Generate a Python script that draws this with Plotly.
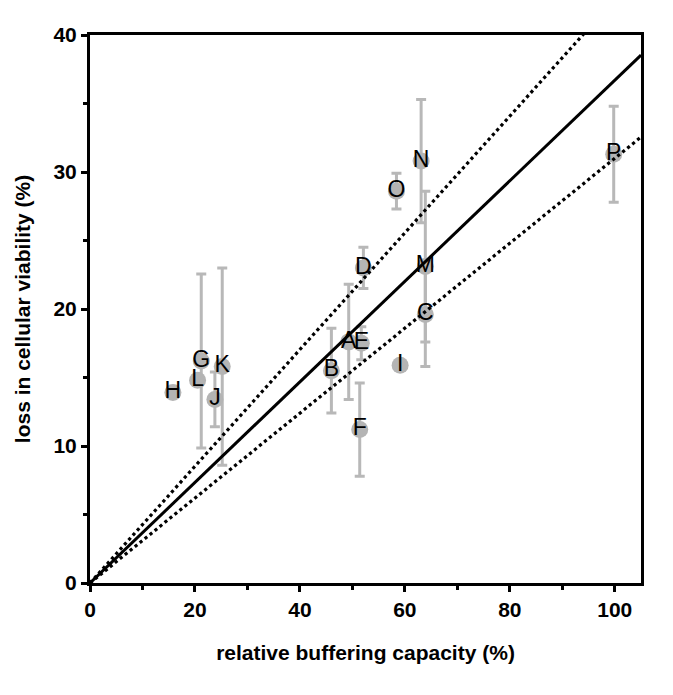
import plotly.graph_objects as go

labels = ["A", "B", "C", "D", "E", "F", "G", "H", "I", "J", "K", "L", "M", "N", "O", "P"]
buffering = [49.3, 46.0, 63.9, 52.1, 51.7, 51.4, 21.2, 15.8, 59.1, 23.8, 25.2, 20.5, 63.9, 63.1, 58.4, 99.8]
viability = [17.6, 15.5, 19.6, 23.0, 17.5, 11.2, 16.2, 13.9, 15.9, 13.4, 15.8, 14.8, 23.1, 30.8, 28.6, 31.3]
viability_err = [4.2, 3.1, 3.8, 1.5, 1.2, 3.4, 6.35, 0.0, 0.2, 2.0, 7.2, 0.0, 5.5, 4.5, 1.3, 3.5]

line_x = [0, 105]
slope_fit = 0.367
slope_upper = 0.426
slope_lower = 0.310

fig = go.Figure()

fig.add_trace(go.Scatter(
    x=buffering, y=viability, mode="markers",
    marker=dict(size=17, color="#b4b4b4", line=dict(width=0)),
    error_y=dict(type="data", array=viability_err, visible=True,
                 color="#b8b8b8", thickness=3, width=5),
    hoverinfo="skip", showlegend=False,
))

for s, dash in [(slope_fit, "solid"), (slope_upper, "dot"), (slope_lower, "dot")]:
    fig.add_trace(go.Scatter(
        x=line_x, y=[v * s for v in line_x], mode="lines",
        line=dict(color="black", width=3 if dash == "solid" else 3.2, dash=dash),
        showlegend=False, hoverinfo="skip", cliponaxis=True,
    ))

fig.add_trace(go.Scatter(
    x=buffering, y=viability, mode="text", text=labels,
    textposition="middle center",
    textfont=dict(family="Liberation Sans, Arial", size=23, color="black"),
    showlegend=False, hoverinfo="skip",
))

axis_common = dict(
    showgrid=False, zeroline=False, showline=True, linecolor="black", linewidth=3,
    mirror=True, ticks="outside", ticklen=6, tickwidth=3, tickcolor="black",
    tickfont=dict(family="Liberation Sans, Arial", size=21, color="black", weight="bold"),
)

fig.update_layout(
    width=673, height=695,
    margin=dict(l=90, r=32, t=35, b=112),
    plot_bgcolor="white", paper_bgcolor="white",
    xaxis=dict(range=[0, 105], tickvals=[0, 20, 40, 60, 80, 100],
               minor=dict(dtick=10, ticks="outside", ticklen=4, tickwidth=3, tickcolor="black"),
               title=dict(text="relative buffering capacity (%)", standoff=26,
                          font=dict(family="Liberation Sans, Arial", size=21, color="black", weight="bold")),
               **axis_common),
    yaxis=dict(range=[0, 40], tickvals=[0, 10, 20, 30, 40],
               minor=dict(dtick=5, ticks="outside", ticklen=4, tickwidth=3, tickcolor="black"),
               title=dict(text="loss in cellular viability (%)", standoff=18,
                          font=dict(family="Liberation Sans, Arial", size=21, color="black", weight="bold")),
               **axis_common),
)

fig.write_html("out.html")
